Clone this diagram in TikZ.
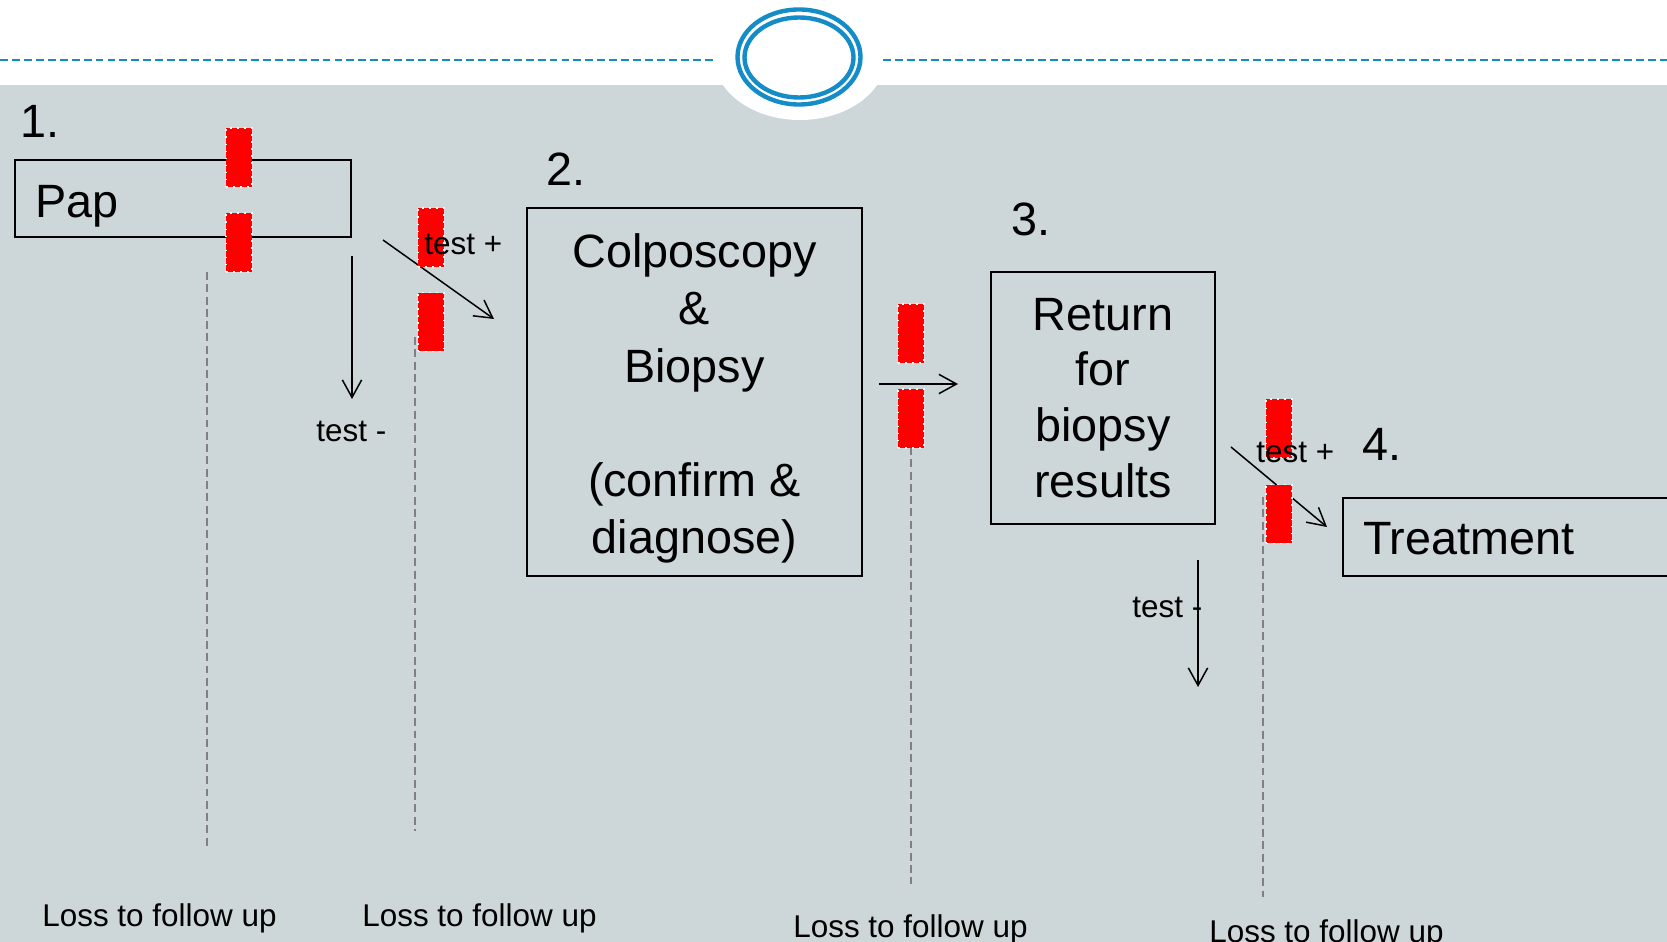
\documentclass[tikz,border=0pt]{standalone}
\usepackage{fontspec}
\setmainfont{Liberation Sans}
\usetikzlibrary{arrows.meta, positioning}

\definecolor{slidegray}{RGB}{205,214,217}
\definecolor{ringblue}{RGB}{20,140,200}
\definecolor{gatered}{RGB}{255,0,0}

\begin{document}
\begin{tikzpicture}[
  x=0.02cm, y=-0.02cm,
  box/.style={rectangle, draw, line width=1.1pt, inner sep=0pt},
  bigtext/.style={font=\fontsize{26.6}{32.6}\selectfont},
  numlabel/.style={font=\fontsize{26.6}{32}\selectfont, inner sep=0pt, anchor=base west},
  smalltext/.style={font=\fontsize{17.9}{21}\selectfont, inner sep=0pt, anchor=base west},
  gate/.style={rectangle, fill=gatered, minimum width=0.52cm, minimum height=1.18cm, inner sep=0pt,
    postaction={draw=white!80!slidegray, dash pattern=on 1pt off 3pt, line width=0.7pt}},
  lossline/.style={draw=gray, line width=0.6pt, dash pattern=on 4.5pt off 2.5pt},
  arrow/.style={-{Straight Barb[length=10pt, width=11pt]}, line width=0.85pt}
]
  % slide background
  \useasboundingbox (0,0) rectangle (1667,942);
  \fill[white] (0,0) rectangle (1667,85);
  \fill[slidegray] (0,85) rectangle (1667,942);
  \fill[white] (800,57) ellipse [x radius=86, y radius=63];
  \draw[ringblue, line width=0.75pt, dash pattern=on 4.5pt off 2.3pt] (0,60) -- (713,60);
  \draw[ringblue, line width=0.75pt, dash pattern=on 4.5pt off 2.3pt] (883,60) -- (1667,60);
  \draw[ringblue, line width=2.5pt] (799,57) ellipse [x radius=61.5, y radius=47.5];
  \draw[ringblue, line width=2.5pt] (799,57.5) ellipse [x radius=54.5, y radius=40];

  % steps
  \node[box, minimum width=6.72cm, minimum height=1.54cm, text width=5.92cm,
    text height=22pt, text depth=0pt, align=left, bigtext] (pap) at (183,198.5) {Pap};
  \node[box, minimum width=6.7cm, minimum height=7.36cm, align=center, bigtext]
    (colpo) at (694.5,392) {\rule{0pt}{26.8pt}Colposcopy\\ \&\\ Biopsy\\[32.6pt] (confirm \&\\ diagnose)};
  \node[box, minimum width=4.48cm, minimum height=5.04cm, align=center,
    font=\fontsize{26.6}{31.8}\selectfont] (ret) at (1103,398) {Return\\ for\\ biopsy\\ results};
  \node[box, minimum width=8cm, minimum height=1.56cm, text width=7.2cm,
    text height=20.4pt, text depth=0pt, align=left, bigtext] (treat) at (1543,537) {Treatment};

  \node[numlabel] (n1) at (20,138) {1.};
  \node[numlabel] (n2) at (546,186) {2.};
  \node[numlabel] (n3) at (1011,236) {3.};
  \node[numlabel] (n4) at (1362,460) {4.};

  % loss to follow up
  \coordinate (loss1top) at (207,272);  \coordinate (loss1end) at (207,847);
  \coordinate (loss2top) at (415,337);  \coordinate (loss2end) at (415,831);
  \coordinate (loss3top) at (911,447);  \coordinate (loss3end) at (911,884);
  \coordinate (loss4top) at (1263,497); \coordinate (loss4end) at (1263,897);
  \draw[lossline] (loss1top) -- (loss1end);
  \draw[lossline] (loss2top) -- (loss2end);
  \draw[lossline] (loss3top) -- (loss3end);
  \draw[lossline] (loss4top) -- (loss4end);

  % arrows
  \coordinate (papneg) at (352,256);    \coordinate (papnegend) at (352,399);
  \coordinate (pappos) at (383,240);    \coordinate (papposend) at (494,319);
  \coordinate (colpoout) at (879,384);  \coordinate (colpoend) at (958,384);
  \coordinate (retpos) at (1231,447);   \coordinate (retposend) at (1327,527);
  \coordinate (retneg) at (1198,560);   \coordinate (retnegend) at (1198,687);
  \draw[arrow] (papneg) -- (papnegend);
  \draw[arrow] (pappos) -- (papposend);
  \draw[arrow] (colpoout) -- (colpoend);
  \draw[arrow] (retpos) -- (retposend);
  \draw[arrow] (retneg) -- (retnegend);

  % barriers
  \node[gate] (g1a) at (239,157.5) {};
  \node[gate] (g1b) at (239,242.5) {};
  \node[gate] (g2a) at (431,237.5) {};
  \node[gate] (g2b) at (431,322) {};
  \node[gate] (g3a) at (911,333.5) {};
  \node[gate] (g3b) at (911,418.5) {};
  \node[gate] (g4a) at (1279,428.5) {};
  \node[gate] (g4b) at (1279,514) {};

  \node[smalltext] (papminus) at (316,441) {test -};
  \node[smalltext] (papplus) at (424,255) {test +};
  \node[smalltext] (retplus) at (1256,462) {test +};
  \node[smalltext] (retminus) at (1132,617) {test -};

  \node[smalltext] (lost1) at (42,926) {Loss to follow up};
  \node[smalltext] (lost2) at (362,926) {Loss to follow up};
  \node[smalltext] (lost3) at (793,937) {Loss to follow up};
  \node[smalltext] (lost4) at (1209,942) {Loss to follow up};
\end{tikzpicture}
\end{document}
